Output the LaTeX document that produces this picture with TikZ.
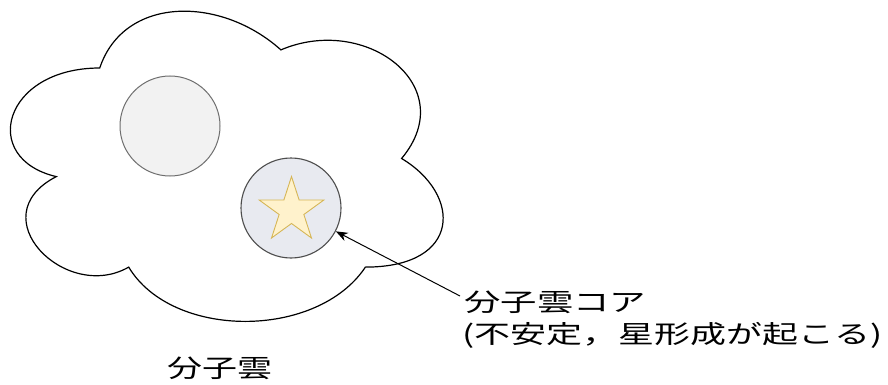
\documentclass[tikz,border=0pt]{standalone}
\usepackage{fontspec}
\newfontfamily\cjk{Noto Sans CJK JP}
\usetikzlibrary{shapes.geometric,arrows.meta}
\definecolor{plainfill}{HTML}{F2F2F2}
\definecolor{plainline}{HTML}{6E6E6E}
\definecolor{corefill}{HTML}{E8EAF0}
\definecolor{coreline}{HTML}{4D4D4D}
\definecolor{starfill}{HTML}{FFF2CC}
\definecolor{starline}{HTML}{D6B656}
\tikzset{
  clump/.style={circle, draw=plainline, fill=plainfill, line width=1pt, minimum size=100pt, inner sep=0pt},
  corecirc/.style={circle, draw=coreline, fill=corefill, line width=1.1pt, minimum size=100pt, inner sep=0pt},
  starshape/.style={star, star points=5, star point ratio=2.618, draw=starline, fill=starfill, line width=0.9pt, minimum size=68pt, inner sep=0pt},
  label/.style={font=\cjk\fontsize{25}{33}\selectfont, inner sep=0pt, align=left},
  pointer/.style={line width=1pt, -{Stealth[length=12pt,width=9pt]}}
}
\begin{document}
\begin{tikzpicture}[x=1pt,y=-1pt]
\useasboundingbox (0,0) rectangle (888,385);
% cloud
\draw[line width=1.2pt, fill=white]
  (99.75,68) .. controls (3.15,68) and (-21,158.5) .. (56.3,176.6)
  .. controls (-21,216.4) and (65.9,303.3) .. (128.7,267.1)
  .. controls (172.2,339.5) and (317.1,339.5) .. (365.4,267.1)
  .. controls (462,267.1) and (462,194.7) .. (401.6,158.5)
  .. controls (462,86.1) and (365.4,13.7) .. (280.9,49.9)
  .. controls (220.5,-4.4) and (123.9,-4.4) .. (99.75,68) -- cycle;
\node[clump] (plain) at (170,126) {};
\node[corecirc] (core) at (291,208) {};
\node[starshape] (star) at (291.5,210.5) {};
\node[label, anchor=west] (corename) at (464,302) {\resizebox{182pt}{\height}{分子雲コア}};
\node[label, anchor=west] (corenote) at (462,335) {\resizebox{420pt}{\height}{(不安定，星形成が起こる)}};
\node[label] (cloudname) at (220,368) {\resizebox{105pt}{\height}{分子雲}};
\coordinate (tail) at (460,296);
\draw[pointer] (tail) -- (core);
\end{tikzpicture}
\end{document}
